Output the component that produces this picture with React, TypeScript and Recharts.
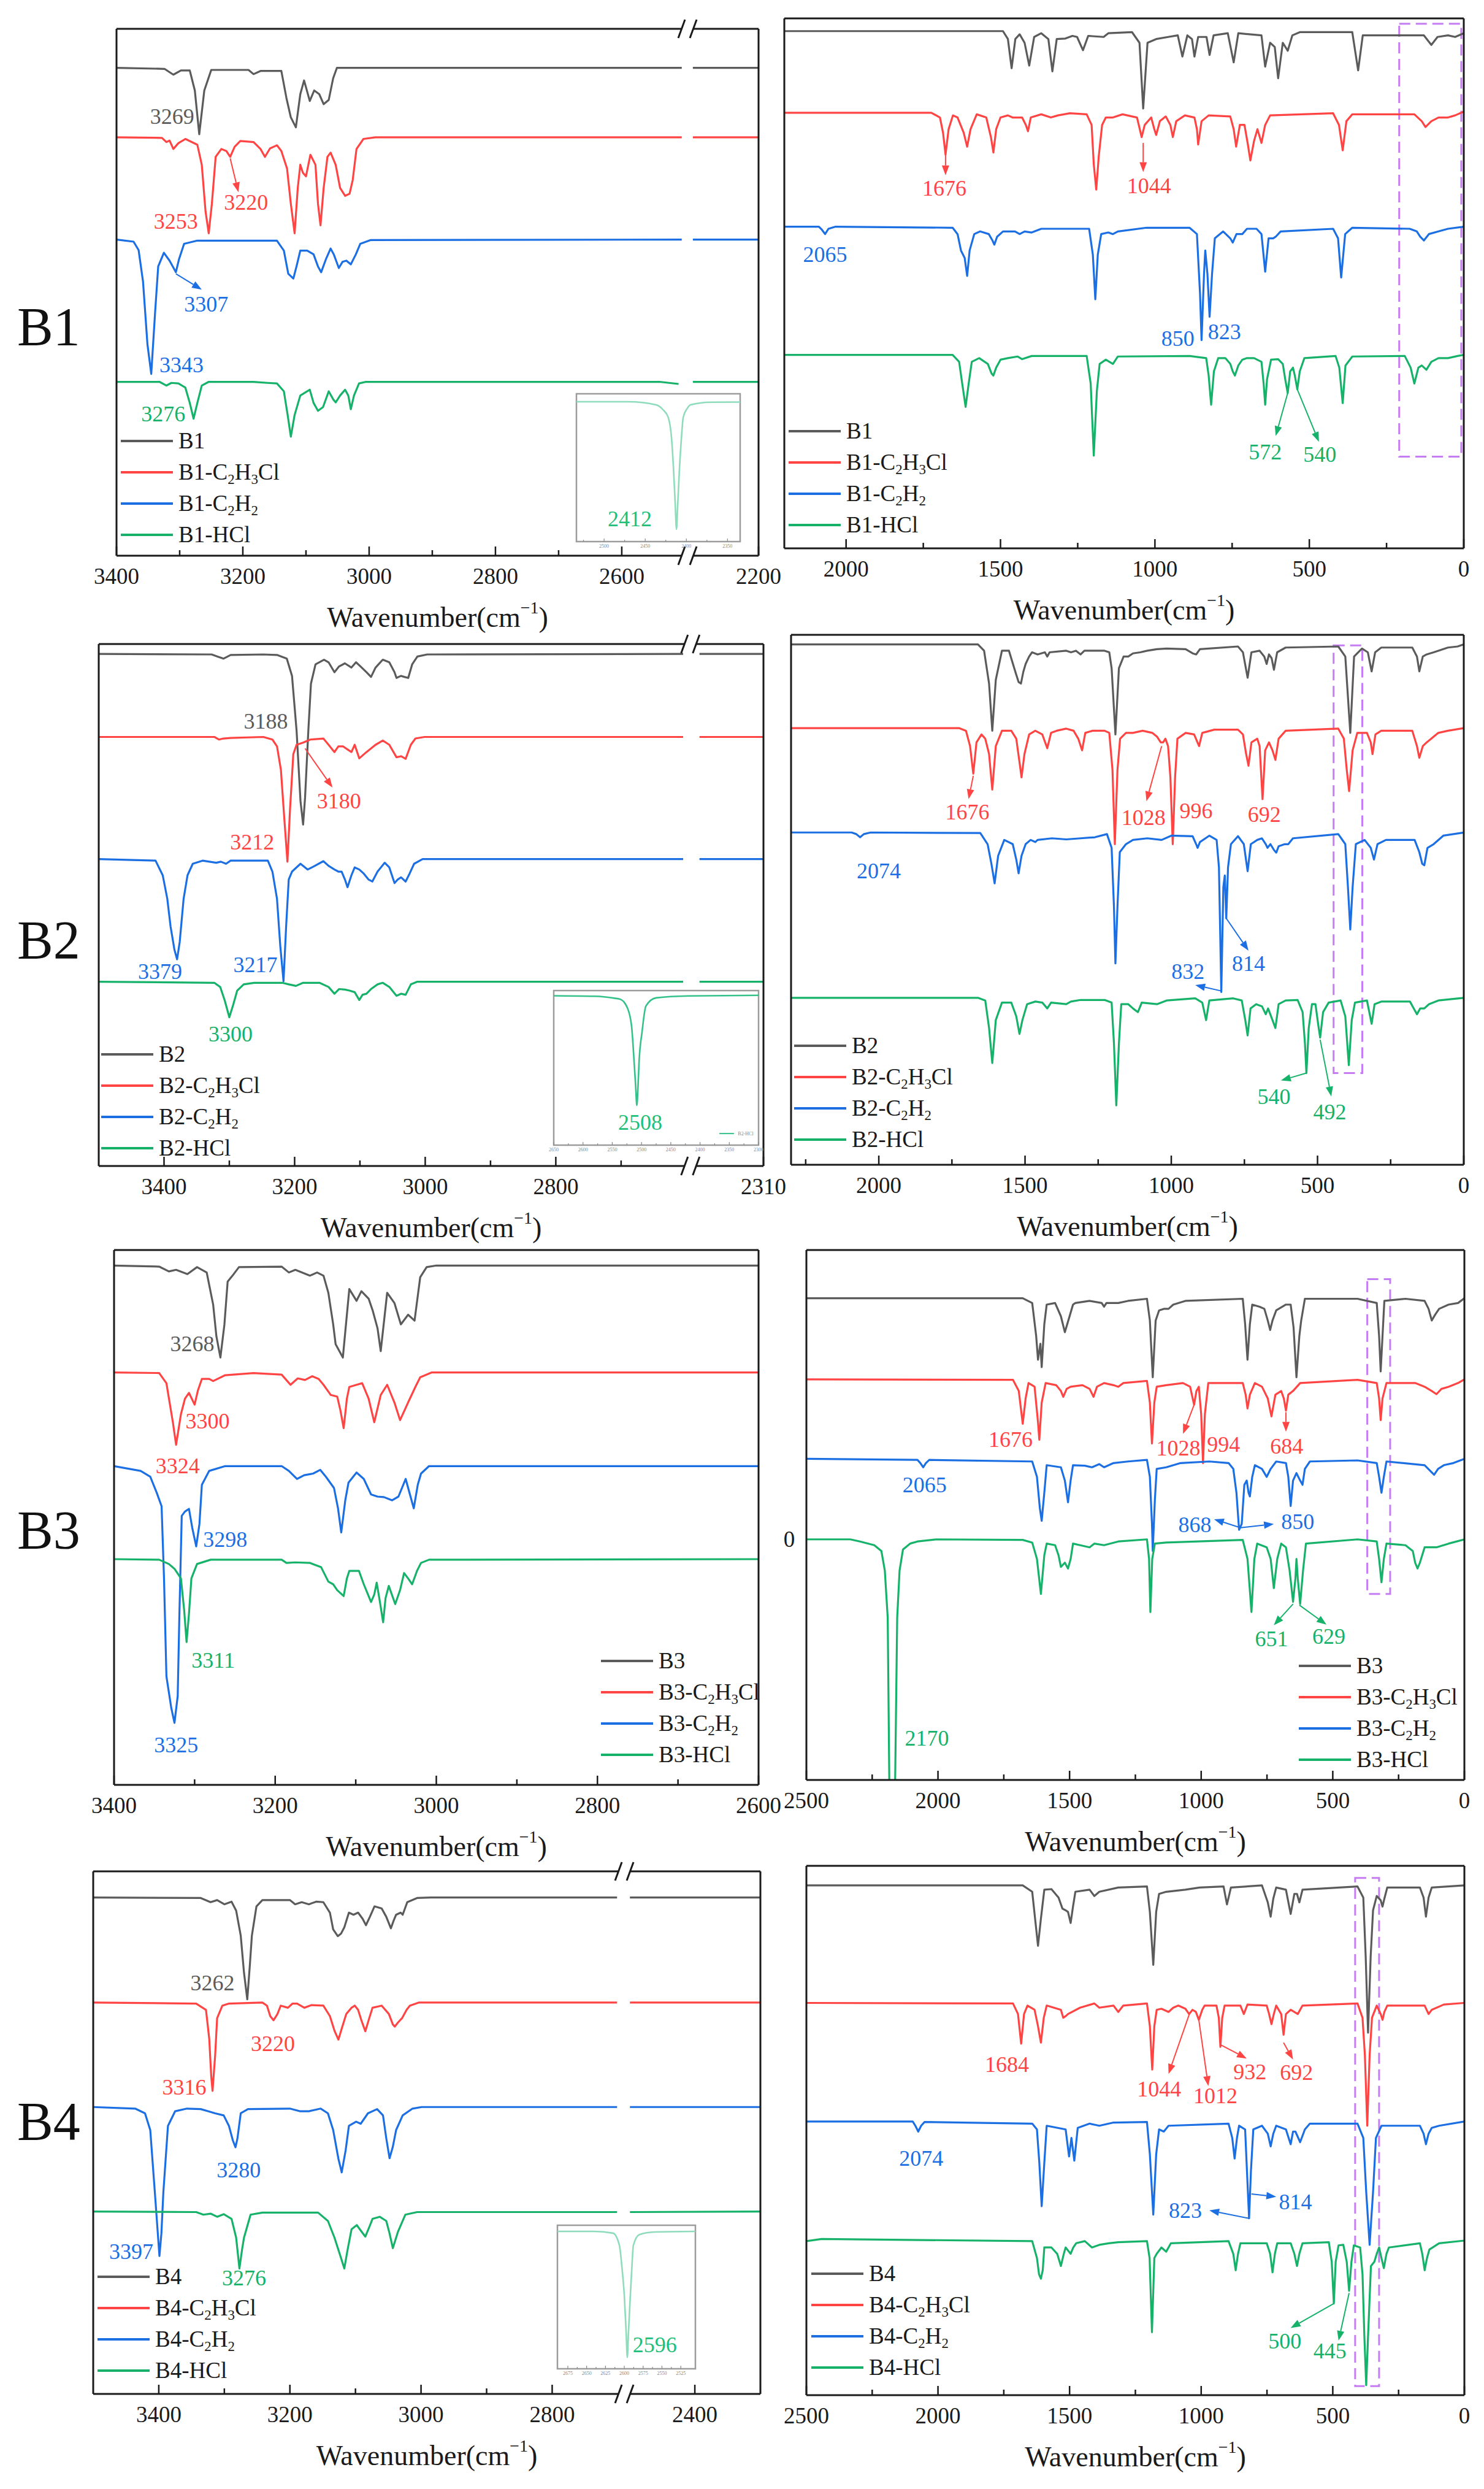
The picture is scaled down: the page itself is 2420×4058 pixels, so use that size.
import React from "react";
import { LineChart, Line, XAxis, YAxis, ReferenceLine, ReferenceArea, ReferenceDot, Legend } from "recharts";

type P = [number, number] | null;
type Note = [string, number, number, string];
type Arrow = [number, number, number, number, string];

const SERIF = '"Liberation Serif", "Times New Roman", Times, serif';
const INK = "#1a1a1a";
const GRAY = "#5b5b5b";
const RED = "#ff4444";
const BLUE = "#1b6fe3";
const GREEN = "#17b26a";
const LIGHT_GREEN = "#8fdcbc";
const PURPLE = "#c67cf2";

// ---------- B1 ----------
const b1Gray: P[] = [[3400,92.6],[3324,92.4],[3310,91.3],[3298,92.1],[3284,92.1],[3276,88.3],[3269,80.0],[3261,88.3],[3250,92.2],[3191,92.2],[3183,91.4],[3172,92.0],[3139,92.0],[3131,86.9],[3124,83.2],[3116,81.3],[3109,87.6],[3103,90.2],[3094,86.3],[3087,88.3],[3079,87.6],[3072,85.7],[3064,86.5],[3057,90.6],[3051,92.6],[2505,92.6],null,[2304,92.6],[2200,92.6]];
const b1Red: P[] = [[3400,79.4],[3328,79.3],[3321,78.5],[3316,78.8],[3310,77.2],[3302,78.3],[3291,79.1],[3272,78.0],[3265,74.2],[3259,65.3],[3254,61.2],[3249,66.8],[3243,75.7],[3234,77.2],[3226,76.8],[3220,75.7],[3213,77.6],[3204,78.7],[3183,78.5],[3172,77.2],[3165,75.7],[3157,77.3],[3146,77.9],[3139,76.8],[3130,73.5],[3124,66.8],[3118,61.2],[3113,69.8],[3109,74.2],[3105,72.7],[3100,72.0],[3093,76.1],[3085,74.2],[3081,66.8],[3077,62.7],[3072,69.8],[3066,75.7],[3061,76.5],[3053,74.2],[3046,69.8],[3038,68.3],[3031,68.7],[3026,71.3],[3020,77.2],[3009,79.1],[2990,79.4],[2505,79.4],null,[2304,79.4],[2200,79.4]];
const b1Blue: P[] = [[3400,60.0],[3373,59.6],[3365,58.0],[3358,52.0],[3351,40.1],[3345,34.5],[3339,46.0],[3334,54.9],[3325,57.5],[3316,56.0],[3306,53.8],[3301,56.3],[3293,59.2],[3272,59.8],[3146,59.8],[3135,57.9],[3128,53.5],[3120,52.6],[3115,54.9],[3109,57.9],[3098,57.9],[3088,57.2],[3081,54.9],[3076,53.8],[3068,56.4],[3061,58.3],[3056,57.2],[3048,54.6],[3042,55.8],[3036,56.0],[3029,55.3],[3021,57.2],[3014,59.2],[2998,59.9],[2505,60.0],null,[2304,60.0],[2200,60.0]];
const b1Green: P[] = [[3400,33.0],[3332,33.0],[3321,32.3],[3313,32.8],[3302,32.7],[3291,31.9],[3284,29.0],[3278,26.0],[3272,29.0],[3265,32.3],[3254,33.0],[3183,33.0],[3161,32.8],[3146,32.7],[3135,31.2],[3129,26.7],[3124,22.6],[3118,26.7],[3109,30.4],[3094,31.5],[3088,29.0],[3081,27.5],[3073,28.2],[3064,31.2],[3057,29.7],[3053,29.1],[3046,30.4],[3038,31.5],[3033,30.4],[3029,27.8],[3024,30.4],[3016,32.7],[3005,33.0],[2540,33.0],[2510,32.6],null,[2304,33.0],[2200,33.0]];

const b1rGray: P[] = [[2200,97.6],[1492,97.6],[1476,96.1],[1464,90.6],[1452,96.1],[1438,97.0],[1422,95.4],[1407,91.1],[1391,96.5],[1368,97.2],[1345,96.1],[1332,90.0],[1318,96.1],[1290,96.2],[1267,96.7],[1252,96.5],[1233,94.0],[1216,96.7],[1166,96.5],[1151,97.2],[1074,97.4],[1050,95.4],[1038,83.0],[1024,95.4],[996,96.1],[957,96.5],[926,96.8],[911,92.8],[895,96.8],[880,96.1],[872,92.8],[860,96.5],[833,96.5],[823,93.1],[810,96.8],[764,97.2],[745,91.7],[730,97.2],[655,96.8],[643,90.9],[627,95.4],[612,94.6],[601,88.7],[586,95.4],[570,93.9],[555,96.8],[531,97.4],[361,97.4],[342,90.2],[327,96.8],[129,96.8],[105,95.0],[85,96.5],[51,96.8],[28,96.5],[0,97.2]];
const b1rRed: P[] = [[2200,82.2],[1724,82.2],[1696,81.3],[1686,78.4],[1678,74.3],[1668,79.1],[1654,81.7],[1639,81.3],[1619,78.4],[1608,75.8],[1597,79.1],[1577,81.9],[1546,81.3],[1531,77.6],[1523,74.7],[1514,79.1],[1500,81.3],[1476,81.7],[1461,81.3],[1430,81.3],[1418,79.9],[1411,78.7],[1402,81.3],[1368,81.9],[1337,81.3],[1314,81.7],[1275,82.1],[1221,81.9],[1205,79.9],[1198,72.5],[1190,67.7],[1182,73.9],[1171,79.9],[1159,81.3],[1136,81.3],[1105,81.9],[1058,81.3],[1049,79.1],[1043,77.6],[1033,79.9],[1012,81.3],[1002,79.1],[996,78.0],[984,80.6],[965,81.5],[950,79.9],[942,77.6],[931,80.6],[903,81.7],[872,81.3],[864,79.1],[860,76.2],[849,80.6],[826,81.7],[756,81.5],[745,79.1],[737,75.8],[725,79.9],[710,79.9],[699,76.2],[691,73.2],[679,76.9],[668,79.1],[655,76.5],[643,79.9],[627,81.7],[423,82.1],[404,79.9],[392,75.1],[380,80.6],[361,81.9],[160,81.9],[136,80.6],[124,79.5],[105,80.6],[82,81.3],[51,81.3],[28,81.7],[0,82.4]];
const b1rBlue: P[] = [[2200,60.7],[2088,60.7],[2078,60.1],[2068,59.3],[2057,60.3],[2034,60.7],[1655,60.5],[1639,59.3],[1628,56.2],[1616,54.8],[1608,51.4],[1600,56.2],[1585,59.3],[1566,59.8],[1538,59.3],[1526,58.1],[1520,57.3],[1511,58.8],[1492,59.8],[1453,59.8],[1438,59.3],[1422,59.8],[1399,59.6],[1368,60.3],[1275,60.3],[1213,60.3],[1201,55.4],[1193,47.0],[1185,55.4],[1174,59.3],[1151,59.6],[1136,59.3],[1120,59.8],[1027,60.5],[888,60.5],[864,59.3],[854,48.1],[849,39.3],[841,51.8],[837,56.2],[830,51.8],[823,43.7],[815,51.8],[806,58.5],[779,59.8],[756,58.5],[748,57.7],[736,59.3],[717,59.3],[702,60.3],[671,60.3],[655,59.3],[643,52.2],[632,58.5],[617,58.5],[609,58.8],[593,59.8],[423,60.3],[407,58.5],[397,51.1],[384,59.3],[361,60.5],[175,60.3],[152,59.8],[141,58.8],[129,58.1],[113,59.3],[82,59.8],[51,60.3],[0,60.7]];
const b1rGreen: P[] = [[2200,36.5],[1655,36.5],[1634,35.2],[1624,31.1],[1613,26.7],[1603,31.1],[1593,35.2],[1569,35.9],[1541,34.8],[1529,33.0],[1523,32.6],[1514,34.1],[1500,35.6],[1476,35.9],[1445,36.2],[1430,35.7],[1399,36.3],[1306,36.3],[1221,36.3],[1208,31.1],[1198,17.5],[1188,29.7],[1179,34.8],[1159,35.6],[1136,34.8],[1120,36.2],[888,36.3],[834,35.9],[826,32.6],[818,27.1],[809,33.4],[795,35.9],[772,35.9],[756,34.8],[748,33.4],[741,32.6],[730,34.5],[717,35.6],[702,35.9],[679,35.9],[655,35.2],[648,31.1],[643,27.1],[637,31.9],[624,35.6],[601,35.7],[586,34.8],[578,31.9],[570,29.3],[562,33.4],[553,34.1],[547,32.6],[539,30.0],[531,33.4],[516,35.9],[415,36.3],[403,34.1],[392,27.4],[383,34.5],[361,36.2],[191,36.3],[172,34.1],[160,31.1],[147,34.1],[136,34.5],[121,33.7],[105,35.2],[82,35.9],[51,35.9],[20,36.3],[0,36.5]];

// ---------- B2 ----------
const b2Gray: P[] = [[3500,98.1],[3327,98.0],[3318,97.6],[3309,97.2],[3298,97.9],[3248,98.0],[3227,97.9],[3212,97.2],[3204,93.9],[3197,83.4],[3191,69.9],[3187,65.4],[3184,70.6],[3179,83.4],[3175,92.4],[3168,96.1],[3155,97.0],[3148,96.5],[3139,94.6],[3132,95.7],[3123,96.3],[3113,95.5],[3106,96.5],[3099,95.7],[3090,94.6],[3083,93.7],[3076,95.5],[3065,97.0],[3055,96.5],[3047,94.6],[3044,93.5],[3037,93.9],[3032,93.7],[3026,93.5],[3020,96.1],[3012,97.6],[2997,98.0],[2605,98.1],null,[2408,98.1],[2310,98.1]];
const b2Red: P[] = [[3500,82.2],[3323,82.2],[3316,81.7],[3309,81.9],[3298,82.0],[3248,82.2],[3234,81.7],[3227,80.4],[3221,75.9],[3216,66.9],[3211,58.3],[3207,68.4],[3202,78.9],[3197,80.7],[3187,81.1],[3176,81.7],[3156,81.9],[3148,80.7],[3139,79.3],[3133,80.4],[3126,80.4],[3119,79.8],[3113,79.3],[3108,80.7],[3101,78.1],[3090,79.3],[3076,80.7],[3065,81.5],[3055,80.7],[3044,78.3],[3037,78.5],[3030,78.0],[3022,80.7],[3015,81.9],[3001,82.2],[2605,82.2],null,[2408,82.2],[2310,82.2]];
const b2Blue: P[] = [[3500,58.8],[3413,58.5],[3402,55.7],[3395,51.2],[3390,45.9],[3384,41.4],[3380,39.6],[3376,42.9],[3370,51.2],[3364,55.7],[3356,57.9],[3341,58.5],[3320,58.1],[3313,58.3],[3305,57.9],[3298,58.5],[3241,58.5],[3234,56.4],[3227,51.2],[3222,42.2],[3217,35.4],[3213,45.9],[3209,54.9],[3204,56.4],[3191,57.9],[3180,56.8],[3169,57.5],[3156,58.4],[3148,57.5],[3139,56.8],[3133,56.4],[3128,56.4],[3123,54.9],[3119,53.4],[3113,55.7],[3108,57.2],[3101,56.8],[3094,56.0],[3087,54.9],[3081,54.5],[3073,56.4],[3062,58.1],[3055,57.2],[3047,54.2],[3042,54.9],[3037,55.3],[3030,54.5],[3024,56.0],[3017,57.9],[3004,58.8],[2605,58.8],null,[2408,58.8],[2310,58.8]];
const b2Green: P[] = [[3500,35.3],[3323,35.1],[3314,34.3],[3307,31.7],[3300,28.5],[3294,30.9],[3288,33.6],[3278,34.8],[3262,35.1],[3219,35.1],[3209,34.8],[3198,34.5],[3187,35.1],[3162,35.1],[3148,34.3],[3139,33.0],[3132,33.9],[3123,33.8],[3116,33.6],[3108,33.3],[3101,31.8],[3096,32.8],[3090,33.0],[3083,33.9],[3073,34.8],[3065,35.1],[3055,34.3],[3044,32.6],[3037,33.0],[3030,32.8],[3022,34.8],[3012,35.3],[2605,35.3],null,[2408,35.3],[2310,35.3]];

const b2rGray: P[] = [[2300,98.2],[1661,98.2],[1640,97.0],[1623,90.8],[1612,81.9],[1600,91.5],[1579,97.0],[1555,97.0],[1533,93.0],[1522,91.1],[1514,90.8],[1506,93.0],[1498,94.5],[1486,95.9],[1476,96.7],[1457,96.3],[1432,96.7],[1424,95.9],[1416,96.7],[1359,97.0],[1343,96.7],[1326,97.0],[1310,96.3],[1297,97.0],[1228,97.0],[1212,96.7],[1204,93.7],[1191,81.2],[1179,93.7],[1163,95.9],[1147,95.9],[1131,96.5],[1106,96.7],[1082,97.0],[1049,97.3],[1016,97.4],[951,97.3],[927,96.5],[915,96.3],[902,97.3],[772,97.8],[755,96.7],[739,91.9],[726,96.7],[698,97.0],[682,95.9],[674,94.5],[666,96.3],[657,95.6],[649,93.4],[638,96.7],[609,97.6],[429,97.8],[405,95.9],[388,81.5],[375,95.9],[348,97.4],[328,96.7],[315,93.1],[303,96.7],[282,97.6],[176,97.6],[160,95.9],[152,93.1],[140,95.9],[127,96.3],[103,96.7],[87,97.0],[54,97.6],[21,97.8],[0,98.2]];
const b2rRed: P[] = [[2300,82.4],[1726,82.4],[1702,81.9],[1688,79.0],[1677,73.8],[1666,79.7],[1649,81.2],[1636,80.4],[1623,77.5],[1612,70.8],[1600,79.0],[1579,81.9],[1547,81.9],[1530,80.4],[1519,76.0],[1512,73.1],[1502,77.5],[1486,81.2],[1465,81.9],[1441,81.2],[1424,78.6],[1411,81.5],[1392,81.9],[1359,82.3],[1334,81.9],[1318,80.4],[1305,78.2],[1294,81.5],[1269,81.9],[1228,81.9],[1212,81.5],[1201,74.5],[1193,60.5],[1184,74.5],[1175,80.4],[1155,81.5],[1131,81.5],[1098,81.9],[1065,81.5],[1049,80.8],[1036,79.7],[1028,79.7],[1020,80.4],[1011,79.0],[1003,73.1],[995,60.5],[987,73.1],[979,80.4],[951,81.5],[922,81.2],[905,79.0],[894,81.5],[853,82.1],[772,82.1],[755,81.2],[744,77.5],[736,75.3],[726,79.7],[706,80.4],[698,79.0],[688,69.0],[679,78.2],[666,79.7],[654,78.2],[644,76.4],[633,80.4],[609,81.9],[429,82.3],[410,80.4],[400,74.5],[392,70.5],[380,78.2],[364,81.5],[331,81.5],[318,79.7],[312,77.5],[302,81.2],[282,81.9],[176,81.9],[160,79.0],[152,76.8],[140,79.0],[127,79.7],[111,80.4],[87,81.5],[54,81.9],[0,82.4]];
const b2rBlue: P[] = [[2300,62.7],[2093,62.7],[2077,62.4],[2064,61.8],[2051,62.4],[2028,62.7],[1653,62.6],[1628,60.5],[1615,56.8],[1604,53.1],[1592,58.3],[1571,61.3],[1542,60.5],[1530,57.6],[1522,55.0],[1512,58.3],[1498,60.5],[1481,61.3],[1465,60.9],[1457,61.3],[1408,61.6],[1359,61.4],[1310,61.6],[1261,61.8],[1220,62.4],[1204,59.8],[1196,48.7],[1191,38.0],[1184,48.7],[1176,59.0],[1155,60.5],[1131,61.3],[1082,61.6],[1033,61.3],[1000,62.1],[927,62.0],[915,60.5],[910,59.8],[902,60.9],[870,62.1],[845,61.3],[837,56.1],[829,32.6],[822,52.4],[817,54.6],[812,46.5],[806,56.1],[796,60.5],[772,62.0],[752,60.5],[739,55.4],[728,60.5],[706,61.3],[690,61.6],[677,60.5],[671,59.8],[661,60.5],[649,59.4],[641,58.9],[633,60.1],[612,60.5],[600,60.5],[584,61.6],[429,62.4],[405,60.5],[396,52.4],[388,44.4],[380,52.4],[369,60.5],[339,61.3],[318,59.8],[307,57.6],[295,60.5],[266,61.3],[168,61.3],[152,59.0],[142,56.8],[135,56.5],[124,59.8],[103,60.5],[70,62.1],[0,62.7]];
const b2rGreen: P[] = [[2300,31.5],[1661,31.5],[1636,31.0],[1623,25.8],[1612,19.2],[1600,27.3],[1579,30.6],[1547,30.6],[1530,28.0],[1519,24.7],[1509,27.3],[1493,30.3],[1465,30.8],[1441,30.6],[1424,29.5],[1411,30.6],[1359,30.3],[1343,30.8],[1310,31.1],[1228,31.1],[1204,30.6],[1196,22.9],[1188,11.2],[1179,22.9],[1171,30.3],[1147,30.3],[1131,29.5],[1114,28.8],[1101,30.6],[1049,30.3],[1016,31.0],[918,31.4],[894,30.6],[881,27.3],[870,31.0],[788,31.4],[759,31.0],[747,27.3],[739,24.4],[729,29.5],[710,30.3],[690,29.9],[677,28.4],[669,29.5],[654,27.3],[644,25.8],[633,30.3],[609,31.0],[568,31.1],[551,28.8],[543,22.9],[538,17.3],[530,25.8],[519,30.3],[507,30.3],[498,26.6],[491,24.0],[481,28.8],[462,30.6],[421,31.0],[405,28.0],[393,18.8],[383,27.3],[372,30.6],[331,31.0],[323,28.8],[315,26.6],[305,30.3],[282,30.8],[184,30.8],[168,29.2],[160,28.4],[149,29.5],[135,29.5],[119,30.3],[87,31.0],[0,31.5]];

// ---------- B3 ----------
const b3Gray: P[] = [[3400,97.1],[3344,96.9],[3332,96.0],[3323,96.3],[3309,95.5],[3297,96.8],[3285,95.8],[3277,89.8],[3273,83.9],[3268,79.9],[3263,86.1],[3259,94.1],[3253,95.2],[3245,96.8],[3192,96.9],[3183,95.8],[3175,96.3],[3157,95.2],[3148,95.8],[3140,95.2],[3134,92.0],[3128,86.1],[3125,82.4],[3116,79.9],[3108,92.7],[3099,90.5],[3093,92.3],[3084,90.9],[3079,88.7],[3073,85.4],[3069,81.1],[3061,92.0],[3052,90.1],[3044,86.1],[3035,87.9],[3027,86.8],[3020,94.9],[3012,96.8],[3000,97.1],[2600,97.1]];
const b3Red: P[] = [[3400,77.1],[3344,77.0],[3335,75.1],[3327,67.8],[3323,63.6],[3317,69.3],[3312,72.2],[3307,73.3],[3300,71.1],[3296,73.7],[3291,75.9],[3282,75.9],[3277,75.5],[3262,76.6],[3227,77.0],[3192,76.7],[3185,75.5],[3181,74.8],[3172,76.0],[3163,75.7],[3154,76.4],[3146,75.9],[3140,74.8],[3131,72.9],[3123,72.6],[3119,70.0],[3115,66.7],[3111,72.2],[3108,74.4],[3099,74.8],[3092,75.1],[3084,72.2],[3077,67.8],[3069,72.9],[3061,74.8],[3052,71.5],[3045,68.2],[3035,71.5],[3026,74.4],[3020,76.2],[3006,77.1],[2600,77.1]];
const b3Blue: P[] = [[3400,59.6],[3367,58.7],[3355,57.6],[3347,54.6],[3341,52.1],[3338,38.6],[3335,20.3],[3329,14.4],[3325,11.6],[3321,16.6],[3319,31.2],[3316,50.3],[3312,51.1],[3307,51.6],[3303,48.1],[3298,44.6],[3294,48.8],[3291,56.1],[3282,58.7],[3262,59.6],[3192,59.6],[3183,58.7],[3173,57.2],[3164,57.9],[3153,58.2],[3144,58.9],[3137,57.6],[3127,55.5],[3122,51.7],[3118,47.2],[3113,53.2],[3109,56.5],[3099,58.4],[3090,57.2],[3081,54.3],[3073,53.9],[3065,53.8],[3055,53.2],[3047,53.9],[3038,57.2],[3032,53.9],[3028,51.7],[3023,56.1],[3019,58.2],[3009,59.6],[2600,59.6]];
const b3Green: P[] = [[3400,42.2],[3344,42.1],[3332,41.3],[3325,40.4],[3317,38.6],[3313,32.7],[3310,26.7],[3307,32.0],[3304,38.6],[3297,41.3],[3280,42.1],[3192,42.1],[3186,41.5],[3175,41.6],[3157,41.5],[3143,40.7],[3134,38.0],[3128,37.5],[3123,36.4],[3115,35.3],[3111,38.6],[3108,40.0],[3096,40.0],[3090,37.5],[3081,34.2],[3077,35.6],[3074,37.8],[3070,34.2],[3066,30.4],[3063,34.9],[3059,37.2],[3051,33.8],[3045,36.4],[3040,39.6],[3035,38.6],[3030,37.5],[3024,40.0],[3019,41.5],[3009,42.1],[2600,42.2]];

const b3rGray: P[] = [[2500,90.9],[1678,90.9],[1642,90.0],[1627,83.8],[1620,79.3],[1611,82.3],[1606,77.9],[1596,86.0],[1587,89.7],[1555,90.0],[1533,87.5],[1518,84.5],[1509,86.0],[1500,87.5],[1487,89.7],[1478,90.0],[1424,90.4],[1378,90.0],[1369,89.3],[1360,90.0],[1315,90.0],[1278,90.4],[1206,90.8],[1195,86.7],[1184,76.0],[1173,86.7],[1160,88.6],[1142,88.9],[1124,88.9],[1106,89.7],[1060,90.4],[842,90.8],[833,86.0],[824,79.3],[815,86.0],[806,89.7],[778,89.3],[760,88.9],[747,86.7],[738,84.9],[729,86.7],[715,88.6],[678,89.7],[660,89.7],[649,85.4],[638,76.0],[627,83.8],[620,86.7],[606,90.8],[406,90.8],[333,90.0],[324,83.8],[318,77.1],[311,83.8],[304,90.4],[224,90.8],[151,90.4],[136,88.9],[124,86.7],[111,87.8],[96,88.9],[60,89.7],[24,90.0],[0,90.9]];
const b3rRed: P[] = [[2500,75.6],[1715,75.5],[1693,73.4],[1678,67.2],[1667,72.0],[1656,74.9],[1633,74.2],[1620,67.5],[1615,64.2],[1606,71.2],[1591,74.9],[1551,74.5],[1533,73.4],[1524,72.3],[1511,73.8],[1496,74.2],[1451,74.5],[1424,73.8],[1409,72.3],[1396,74.2],[1369,74.9],[1333,74.5],[1315,74.2],[1296,74.9],[1206,75.3],[1195,71.2],[1187,63.5],[1178,71.2],[1169,74.2],[1133,74.5],[1069,74.9],[1042,74.2],[1027,70.8],[1018,73.4],[1009,74.2],[1000,69.0],[993,59.8],[986,69.0],[973,74.9],[842,74.9],[831,72.7],[824,70.1],[815,72.7],[796,74.9],[769,74.2],[747,72.0],[733,68.6],[718,72.7],[696,73.4],[686,72.0],[678,69.7],[669,72.7],[651,73.4],[624,74.9],[406,75.5],[333,74.9],[324,72.0],[318,67.9],[311,72.0],[296,74.9],[187,74.9],[151,74.2],[124,73.4],[106,72.8],[87,73.8],[60,74.2],[24,74.9],[0,75.6]];
const b3rBlue: P[] = [[2500,60.6],[2078,60.4],[2067,59.8],[2056,59.0],[2046,59.8],[2033,60.4],[1642,60.1],[1624,57.2],[1613,51.3],[1606,48.9],[1596,54.2],[1587,59.4],[1533,59.0],[1518,56.5],[1506,52.4],[1496,56.5],[1487,59.4],[1442,59.3],[1415,59.0],[1387,59.6],[1369,59.0],[1333,59.8],[1278,60.1],[1206,60.4],[1195,57.2],[1187,48.3],[1184,43.2],[1176,52.8],[1169,58.7],[1133,59.0],[1078,59.8],[969,60.1],[896,59.8],[878,58.7],[866,54.2],[856,47.2],[846,48.3],[836,55.7],[827,56.5],[820,54.2],[815,53.5],[806,57.2],[796,59.4],[769,58.7],[756,57.6],[751,57.2],[736,58.7],[715,60.1],[678,59.8],[669,57.2],[660,51.7],[651,56.5],[638,57.9],[624,56.5],[615,55.7],[606,58.7],[587,60.1],[406,60.3],[333,59.8],[324,57.2],[315,54.2],[306,57.2],[296,60.1],[151,59.4],[129,58.3],[115,57.6],[100,58.7],[78,59.4],[42,59.8],[0,60.6]];
const b3rGreen: P[] = [[2500,45.4],[2333,45.4],[2296,45.0],[2242,44.3],[2215,43.2],[2202,39.5],[2191,30.6],[2184,-5],[2164,-5],[2155,30.6],[2146,39.5],[2133,43.5],[2106,44.6],[2078,45.0],[2006,45.4],[1678,45.3],[1642,44.8],[1624,41.7],[1609,35.1],[1596,42.4],[1587,44.6],[1555,44.3],[1542,42.4],[1533,40.2],[1518,41.0],[1506,39.9],[1496,41.7],[1487,44.6],[1460,44.3],[1424,43.9],[1406,44.6],[1369,44.3],[1315,45.0],[1206,45.4],[1198,41.7],[1193,31.7],[1186,41.7],[1176,44.6],[1133,44.8],[842,45.3],[824,41.7],[809,31.7],[798,41.7],[787,44.6],[751,43.9],[736,41.7],[724,36.2],[711,41.7],[696,44.6],[678,43.9],[664,39.5],[651,33.6],[642,38.0],[638,41.7],[633,38.0],[624,33.2],[613,39.5],[602,44.6],[406,45.4],[333,45.0],[324,41.7],[315,37.3],[306,41.7],[296,44.6],[224,44.3],[196,43.2],[187,41.0],[178,39.9],[169,41.0],[151,43.9],[106,43.9],[60,44.6],[0,45.4]];

// ---------- B4 ----------
const b4Gray: P[] = [[3500,95.0],[3336,94.9],[3321,94.1],[3311,94.5],[3300,93.7],[3289,94.2],[3282,92.5],[3275,87.7],[3270,80.6],[3265,75.5],[3261,82.2],[3258,87.7],[3251,93.3],[3242,94.5],[3200,94.5],[3192,93.7],[3182,94.1],[3171,93.7],[3160,94.2],[3149,94.1],[3139,92.1],[3134,88.9],[3127,87.6],[3122,88.1],[3117,89.3],[3110,92.1],[3103,91.7],[3096,92.1],[3089,90.9],[3084,89.7],[3078,91.3],[3071,93.3],[3060,92.9],[3053,91.3],[3046,89.1],[3042,90.5],[3038,91.7],[3031,92.1],[3028,91.7],[3021,94.1],[3006,94.9],[2985,95.0],[2701,95.0],null,[2499,95.0],[2300,95.0]];
const b4Red: P[] = [[3500,74.9],[3343,74.7],[3328,73.5],[3323,67.9],[3320,60.8],[3318,58.0],[3314,64.8],[3311,71.9],[3303,74.3],[3293,74.7],[3242,74.9],[3235,74.3],[3230,72.3],[3225,71.5],[3219,72.7],[3214,74.3],[3203,73.9],[3196,74.7],[3189,74.7],[3178,73.9],[3167,74.4],[3149,74.3],[3139,72.3],[3132,69.5],[3126,67.8],[3121,69.9],[3114,72.7],[3106,73.9],[3101,74.3],[3096,73.5],[3091,71.5],[3085,69.4],[3079,71.9],[3074,73.9],[3060,74.3],[3049,72.7],[3043,70.7],[3040,70.3],[3035,71.1],[3029,71.9],[3022,73.5],[3017,74.3],[3003,74.9],[2701,74.9],null,[2499,74.9],[2300,74.9]];
const b4Blue: P[] = [[3500,54.9],[3436,54.6],[3421,53.7],[3413,50.5],[3406,38.6],[3401,29.9],[3399,26.4],[3396,30.7],[3393,38.6],[3386,51.3],[3375,54.1],[3357,54.6],[3336,54.5],[3325,54.1],[3314,53.7],[3301,53.3],[3293,51.3],[3287,48.5],[3283,47.2],[3280,48.9],[3275,53.7],[3264,54.5],[3200,54.6],[3185,54.1],[3171,54.1],[3153,54.6],[3142,53.7],[3134,50.5],[3126,45.0],[3121,42.4],[3115,46.6],[3110,51.3],[3099,52.1],[3092,51.7],[3081,53.7],[3067,54.5],[3058,53.3],[3053,48.9],[3048,45.1],[3043,47.3],[3038,50.5],[3028,53.3],[3013,54.6],[2999,54.9],[2701,54.9],null,[2499,54.9],[2300,54.9]];
const b4Green: P[] = [[3500,34.9],[3343,34.8],[3332,34.3],[3321,34.5],[3311,33.9],[3301,34.4],[3289,33.5],[3282,29.9],[3277,24.0],[3273,27.6],[3270,29.9],[3260,34.3],[3242,34.7],[3157,34.7],[3142,33.1],[3132,29.9],[3122,26.0],[3117,24.0],[3112,27.6],[3106,31.5],[3098,32.3],[3091,31.1],[3085,30.1],[3079,31.9],[3074,33.5],[3063,33.9],[3053,33.1],[3048,30.7],[3043,27.9],[3038,29.9],[3035,31.1],[3024,34.3],[3006,34.8],[2701,34.8],null,[2499,34.8],[2300,34.9]];

const b4rGray: P[] = [[2500,96.3],[1678,96.3],[1642,95.1],[1631,90.0],[1620,84.9],[1609,90.0],[1596,95.5],[1569,95.6],[1542,94.0],[1527,91.9],[1515,91.6],[1506,91.3],[1496,89.2],[1487,92.3],[1478,95.1],[1424,95.5],[1406,94.3],[1387,95.1],[1315,95.9],[1206,96.1],[1195,91.3],[1182,81.3],[1171,91.3],[1160,94.7],[1133,95.1],[1060,95.5],[1006,95.9],[915,96.1],[902,92.7],[887,95.9],[769,96.3],[747,93.1],[736,90.4],[726,93.8],[715,95.9],[678,95.5],[660,90.9],[646,94.7],[636,94.7],[627,93.1],[615,95.5],[406,96.1],[384,94.0],[375,82.9],[366,68.5],[356,82.9],[347,91.6],[333,94.3],[318,93.5],[311,92.3],[304,93.8],[293,95.9],[169,95.9],[155,94.0],[146,90.4],[136,94.0],[124,95.9],[0,96.3]];
const b4rRed: P[] = [[2500,74.1],[1715,74.0],[1696,72.0],[1684,66.4],[1673,72.0],[1660,73.6],[1633,72.8],[1620,69.7],[1609,66.6],[1598,71.3],[1587,73.6],[1533,72.8],[1524,71.3],[1515,71.6],[1506,72.0],[1460,73.2],[1406,74.0],[1387,73.2],[1333,73.6],[1315,72.4],[1296,73.6],[1206,74.0],[1195,69.7],[1186,61.5],[1178,69.7],[1169,72.8],[1151,73.0],[1124,72.4],[1106,73.2],[1087,73.6],[1060,73.0],[1046,72.0],[1033,72.8],[1020,72.4],[1009,70.9],[996,72.8],[987,73.6],[942,73.6],[933,71.3],[927,65.8],[920,71.3],[911,73.6],[851,73.6],[838,72.0],[824,73.8],[751,73.6],[742,72.0],[733,70.1],[724,72.0],[715,73.6],[696,72.0],[687,68.1],[678,72.0],[660,72.8],[633,72.0],[615,73.6],[406,74.0],[387,71.3],[378,64.2],[369,50.9],[360,64.2],[351,71.3],[333,73.6],[318,72.0],[311,70.9],[304,72.4],[293,73.6],[151,73.6],[136,72.0],[124,72.8],[78,73.8],[0,74.1]];
const b4rBlue: P[] = [[2500,51.7],[2096,51.7],[2086,50.9],[2075,49.8],[2064,50.9],[2051,51.6],[1642,51.3],[1624,50.2],[1615,43.9],[1606,35.7],[1596,43.9],[1587,50.9],[1515,50.2],[1502,45.1],[1493,48.6],[1482,44.3],[1469,50.5],[1424,51.3],[1387,50.9],[1333,51.5],[1206,51.6],[1195,45.5],[1182,34.1],[1171,45.5],[1160,50.2],[1142,49.8],[1124,50.9],[896,51.3],[882,48.6],[873,44.7],[864,48.6],[856,50.9],[833,50.2],[826,42.3],[818,33.4],[811,42.3],[802,50.2],[769,50.9],[747,49.4],[736,47.0],[726,49.4],[715,50.9],[678,50.2],[660,47.4],[651,49.8],[642,49.8],[624,47.8],[606,50.2],[587,51.3],[406,51.3],[384,48.6],[373,38.4],[360,28.4],[347,38.4],[336,48.6],[315,50.9],[169,50.9],[155,49.4],[146,47.4],[136,49.4],[124,50.5],[96,50.9],[0,51.7]];
const b4rGreen: P[] = [[2500,29.1],[2442,29.5],[1642,29.1],[1624,25.9],[1616,22.8],[1609,22.0],[1602,23.6],[1596,27.9],[1569,27.9],[1547,26.7],[1533,24.4],[1522,26.7],[1515,27.9],[1496,26.7],[1486,27.9],[1475,28.7],[1442,29.1],[1415,27.9],[1387,28.4],[1351,28.7],[1315,28.9],[1206,29.1],[1196,25.9],[1187,11.9],[1178,25.9],[1169,26.7],[1151,27.9],[1133,27.1],[1115,28.7],[896,29.1],[878,26.7],[869,23.6],[860,26.7],[851,28.7],[751,28.7],[738,26.7],[729,23.2],[720,26.7],[711,28.7],[660,28.7],[646,26.7],[636,24.4],[627,26.7],[615,28.7],[515,28.9],[504,25.2],[496,17.3],[489,25.2],[478,28.3],[460,28.4],[447,25.2],[438,19.7],[429,25.2],[420,28.3],[396,27.9],[387,22.8],[380,11.1],[373,1.9],[366,11.1],[355,24.4],[342,25.2],[333,26.7],[324,27.9],[315,25.9],[306,24.0],[296,26.7],[287,27.9],[169,28.7],[160,26.7],[151,23.6],[142,25.9],[133,27.5],[96,28.7],[0,29.2]];

// ---------- insets (HCl band) ----------
const b1InsetPts: [number, number][] = [[2533.6,94.6],[2470,94.6],[2437,92.5],[2428,89],[2422,84],[2418,70],[2415.7,50],[2413.5,25],[2412,8.3],[2410.5,25],[2408.3,50],[2406,70],[2403.8,84],[2399,90],[2395,92.5],[2370,94.3],[2334.6,94.4]];
const b2InsetPts: [number, number][] = [[2650,96.6],[2580,96.3],[2545,95],[2537,94.5],[2524,88.7],[2517,77],[2512.5,53],[2510,38],[2508,25.8],[2506,38],[2504.3,53],[2499,73.5],[2492.5,90],[2475,95.3],[2420,96.5],[2300,96.9]];
const b4InsetPts: [number, number][] = [[2688.8,95.7],[2640,95.7],[2615,94.5],[2606.5,86],[2603,70],[2600,51],[2597.5,25],[2596,7.9],[2594.5,25],[2592,51],[2590,70],[2588,86],[2580,93.5],[2560,95.3],[2505.6,95.7]];

// ---------- peak labels and arrows ----------
const b1Notes: Note[] = [["3269",3312,83.3,GRAY],["3253",3306,63.5,RED],["3220",3195,67.0,RED],["3307",3258,47.7,BLUE],["3343",3297,36.2,BLUE],["3276",3326,26.9,GREEN]];
const b1Arrows: Arrow[] = [[3220,75.4,3207,69.0,RED],[3306,53.5,3265,50.5,BLUE]];
const b1rNotes: Note[] = [["1676",1682,67.9,RED],["1044",1019,68.4,RED],["2065",2068,55.4,BLUE],["850",926,39.6,BLUE],["823",775,40.9,BLUE],["572",643,18.2,GREEN],["540",466,17.7,GREEN]];
const b1rArrows: Arrow[] = [[1678,74.3,1678,70.4,RED],[1038,76.5,1038,71.0,RED],[570,29.3,609,21.2,GREEN],[539,30.0,469,20.1,GREEN]];
const b2Notes: Note[] = [["3188",3244,85.2,GRAY],["3180",3132,69.9,RED],["3212",3265,62.0,RED],["3379",3406,37.3,BLUE],["3217",3260,38.6,BLUE],["3300",3298,25.3,GREEN]];
const b2Arrows: Arrow[] = [[3184,80.0,3142,72.5,RED]];
const b2rNotes: Note[] = [["1676",1697,66.6,RED],["1028",1095,65.5,RED],["996",915,66.8,RED],["692",682,66.1,RED],["2074",2000,55.4,BLUE],["832",943,36.5,BLUE],["814",736,38.0,BLUE],["540",649,12.9,GREEN],["492",458,10.0,GREEN]];
const b2rArrows: Arrow[] = [[1677,73.4,1693,69.0,RED],[1033,79.0,1085,68.6,RED],[829,32.8,918,33.9,BLUE],[812,46.5,736,40.4,BLUE],[538,17.3,625,15.9,GREEN],[491,23.6,453,12.9,GREEN]];
const b3Notes: Note[] = [["3268",3303,82.4,GRAY],["3300",3284,68.0,RED],["3324",3321,59.6,RED],["3298",3262,45.9,BLUE],["3311",3277,23.3,GREEN],["3325",3323,7.5,BLUE]];
const b3rNotes: Note[] = [["1676",1724,64.2,RED],["1028",1087,62.6,RED],["994",915,63.3,RED],["684",675,63.0,RED],["2065",2051,55.7,BLUE],["868",1024,48.2,BLUE],["850",633,48.7,BLUE],["651",733,26.6,GREEN],["629",515,27.1,GREEN],["2170",2042,7.9,GREEN]];
const b3rArrows: Arrow[] = [[1027,70.8,1069,65.3,RED],[678,69.4,678,65.7,RED],[851,47.6,951,49.2,BLUE],[851,47.6,724,48.3,BLUE],[651,33.2,724,29.2,GREEN],[627,33.0,524,29.3,GREEN]];
const b4Notes: Note[] = [["3262",3318,78.6,GRAY],["3220",3226,67.0,RED],["3316",3361,58.7,RED],["3280",3278,42.8,BLUE],["3397",3442,27.2,BLUE],["3276",3270,22.2,GREEN]];
const b4rNotes: Note[] = [["1684",1738,62.5,RED],["1044",1160,57.8,RED],["1012",946,56.6,RED],["932",815,61.1,RED],["692",638,60.9,RED],["2074",2064,44.7,BLUE],["823",1060,34.9,BLUE],["814",642,36.5,BLUE],["500",682,10.2,GREEN],["445",511,8.4,GREEN]];
const b4rArrows: Arrow[] = [[1045,72.0,1124,60.7,RED],[1009,70.9,973,58.4,RED],[927,66.2,827,63.6,RED],[687,66.6,651,63.4,RED],[818,33.4,969,34.9,BLUE],[809,38.0,715,37.5,BLUE],[496,17.3,660,12.7,GREEN],[438,19.3,478,10.3,GREEN]];

const leftTicks: [number, string][] = [[3400,"3400"],[3200,"3200"],[3000,"3000"],[2800,"2800"]];
const rightTicks: [number, string][] = [[2000,"2000"],[1500,"1500"],[1000,"1000"],[500,"500"],[0,"0"]];

interface Trace { name: string; color: string; pts: P[] }
interface PanelSpec {
  box: [number, number, number, number];
  hi: number;
  lo: number;
  brk?: { at: number; shift: number; u: number };
  majors: [number, string][];
  minors: number[];
  traces: Trace[];
  notes: Note[];
  arrows: Arrow[];
  legend: [number, number];
  dash?: [number, number, number, number];
  yZero?: [number, number];
}

const names = (b: string) => [b, `${b}-C2H3Cl`, `${b}-C2H2`, `${b}-HCl`];
const mk = (b: string, a: P[][]): Trace[] =>
  names(b).map((n, i) => ({ name: n, color: [GRAY, RED, BLUE, GREEN][i], pts: a[i] }));

const panels: PanelSpec[] = [
  { box: [190, 47, 1047, 859], hi: 3400, lo: 2200, brk: { at: 2400, shift: 183.4, u: 2496 },
    majors: [...leftTicks, [2600, "2600"], [2200, "2200"]], minors: [3300, 3100, 2900, 2700],
    traces: mk("B1", [b1Gray, b1Red, b1Blue, b1Green]), notes: b1Notes, arrows: b1Arrows, legend: [197, 693] },
  { box: [1279, 30, 1108, 864], hi: 2200, lo: 0, majors: rightTicks, minors: [1750, 1250, 750, 250],
    traces: mk("B1", [b1rGray, b1rRed, b1rBlue, b1rGreen]), notes: b1rNotes, arrows: b1rArrows, legend: [1286, 677],
    dash: [8, 209, 17.3, 99] },
  { box: [161, 1050, 1084, 851], hi: 3500, lo: 2310, brk: { at: 2500, shift: 172, u: 2594 },
    majors: [...leftTicks, [2310, "2310"]], minors: [3300, 3100, 2900, 2700],
    traces: mk("B2", [b2Gray, b2Red, b2Blue, b2Green]), notes: b2Notes, arrows: b2Arrows, legend: [165, 1693] },
  { box: [1290, 1035, 1097, 864], hi: 2300, lo: 0, majors: rightTicks, minors: [2250, 1750, 1250, 750, 250],
    traces: mk("B2", [b2rGray, b2rRed, b2rBlue, b2rGreen]), notes: b2rNotes, arrows: b2rArrows, legend: [1295, 1679],
    dash: [347, 445, 17.3, 98] },
  { box: [186, 2038, 1051, 872], hi: 3400, lo: 2600, majors: [...leftTicks, [2600, "2600"]], minors: [3300, 3100, 2900, 2700],
    traces: mk("B3", [b3Gray, b3Red, b3Blue, b3Green]), notes: b3Notes, arrows: [], legend: [980, 2682] },
  { box: [1315, 2038, 1073, 864], hi: 2500, lo: 0, majors: [[2500, "2500"], ...rightTicks], minors: [2250, 1750, 1250, 750, 250],
    traces: mk("B3", [b3rGray, b3rRed, b3rBlue, b3rGreen]), notes: b3rNotes, arrows: b3rArrows, legend: [2118, 2690],
    dash: [282, 369, 35.1, 94.5], yZero: [2565, 45.4] },
  { box: [152, 3051, 1088, 852], hi: 3500, lo: 2300, brk: { at: 2600, shift: 182.4, u: 2690 },
    majors: [...leftTicks, [2400, "2400"]], minors: [3300, 3100, 2900],
    traces: mk("B4", [b4Gray, b4Red, b4Blue, b4Green]), notes: b4Notes, arrows: [], legend: [159, 3686] },
  { box: [1315, 3042, 1073, 863], hi: 2500, lo: 0, majors: [[2500, "2500"], ...rightTicks], minors: [2250, 1750, 1250, 750, 250],
    traces: mk("B4", [b4rGray, b4rRed, b4rBlue, b4rGreen]), notes: b4rNotes, arrows: b4rArrows, legend: [1323, 3681],
    dash: [324, 415, 1.7, 97.7] },
];

interface InsetSpec {
  box: [number, number, number, number];
  domain: [number, number];
  majors: number[];
  minors: number[];
  color: string;
  pts: [number, number][];
  label: [string, number, number];
  mini?: string;
}

const insets: InsetSpec[] = [
  { box: [940, 642, 267, 241], domain: [2334.6, 2533.6], majors: [2500, 2450, 2400, 2350], minors: [2525, 2475, 2425, 2375],
    color: LIGHT_GREEN, pts: b1InsetPts, label: ["2412", 2468.7, 15.4] },
  { box: [903, 1615, 334, 252], domain: [2300, 2650], majors: [2650, 2600, 2550, 2500, 2450, 2400, 2350, 2300],
    minors: [2625, 2575, 2525, 2475, 2425, 2375, 2325], color: "#35c28a", pts: b2InsetPts, label: ["2508", 2502.2, 14.7], mini: "B2-HCl" },
  { box: [909, 3628, 225, 234], domain: [2505.6, 2688.8], majors: [2675, 2650, 2625, 2600, 2575, 2550, 2525],
    minors: [2662.5, 2637.5, 2612.5, 2587.5, 2562.5, 2537.5], color: LIGHT_GREEN, pts: b4InsetPts, label: ["2596", 2559.6, 16.6] },
];

const panelTags: [string, number][] = [["B1", 534], ["B2", 1534], ["B3", 2496], ["B4", 3460]];

const PAD_L = 50, PAD_R = 75, PAD_T = 30, AXIS_H = 140;
const TICK_DY = 33, TITLE_DY = 100;
const INSET_PAD = 14;

const SUB: React.CSSProperties = { fontSize: "0.62em", verticalAlign: "-0.32em", lineHeight: 0 };
const formula = (s: string) => {
  const i = s.indexOf("-");
  if (i < 0) return s;
  const parts = s.slice(i + 1).split(/(\d)/).filter(Boolean);
  return (
    <>
      {s.slice(0, i + 1)}
      {parts.map((t, k) => (/\d/.test(t) ? <sub key={k} style={SUB}>{t}</sub> : <span key={k}>{t}</span>))}
    </>
  );
};

const LegendBox = ({ traces }: { traces: Trace[] }) => (
  <div style={{ fontFamily: SERIF, fontSize: 37, color: INK }}>
    {traces.map((t) => (
      <div key={t.name} style={{ display: "flex", alignItems: "center", height: 51, whiteSpace: "nowrap" }}>
        <span style={{ display: "inline-block", width: 85, height: 4, background: t.color, marginRight: 9 }} />
        <span style={{ lineHeight: "42px" }}>{formula(t.name)}</span>
      </div>
    ))}
  </div>
);

const AxisTick = (props: any) => {
  const { x, y, payload, majors } = props;
  const m = (majors as [number, string][]).find((mm) => Math.abs(mm[0] - payload.value) < 0.01);
  return (
    <g>
      <line x1={x} x2={x} y1={y} y2={y - (m ? 15 : 9)} stroke={INK} strokeWidth={2.5} />
      {m && (
        <text x={x} y={y + TICK_DY} textAnchor="middle" dominantBaseline="central" fontFamily={SERIF} fontSize={37} fill={INK}>
          {m[1]}
        </text>
      )}
    </g>
  );
};

const InsetTick = (props: any) => {
  const { x, y, payload, majors } = props;
  const major = (majors as number[]).some((m) => Math.abs(m - payload.value) < 0.01);
  return (
    <g>
      <line x1={x} x2={x} y1={y} y2={y - (major ? 5 : 3)} stroke="#8a8a8a" strokeWidth={1.2} />
      {major && (
        <text x={x} y={y + 7} textAnchor="middle" dominantBaseline="central" fontFamily={SERIF} fontSize={8} fill="#8a8a8a">
          {payload.value}
        </text>
      )}
    </g>
  );
};

const arrowShape = (color: string) => (p: any) => {
  const { x1, y1, x2, y2 } = p;
  const a = Math.atan2(y2 - y1, x2 - x1);
  const L = 16, W = 6;
  const bx = x2 - L * Math.cos(a), by = y2 - L * Math.sin(a);
  const px = -Math.sin(a) * W, py = Math.cos(a) * W;
  return (
    <g>
      <line x1={x1} y1={y1} x2={bx} y2={by} stroke={color} strokeWidth={2} />
      <polygon points={`${x2},${y2} ${bx + px},${by + py} ${bx - px},${by - py}`} fill={color} />
    </g>
  );
};

const noteShape = (text: string, color: string, size = 36) => (p: any) => (
  <text x={p.cx} y={p.cy} textAnchor="middle" dominantBaseline="central" fontFamily={SERIF} fontSize={size} fill={color}>
    {text}
  </text>
);

const breakShape = (p: any) => {
  const { cx, cy } = p;
  return (
    <g>
      <rect x={cx - 9} y={cy - 5} width={18} height={10} fill="#fff" />
      <line x1={cx - 15} y1={cy + 15} x2={cx - 4} y2={cy - 15} stroke={INK} strokeWidth={3} />
      <line x1={cx + 4} y1={cy + 15} x2={cx + 15} y2={cy - 15} stroke={INK} strokeWidth={3} />
    </g>
  );
};

function Panel({ spec }: { spec: PanelSpec }) {
  const [bx, by, bw, bh] = spec.box;
  const left = bx - PAD_L, top = by - PAD_T;
  const brk = spec.brk;
  const toU = (v: number) => (brk && v < brk.at ? v + brk.shift : v);
  const uMin = toU(spec.lo), uMax = toU(spec.hi);
  const majorU: [number, string][] = spec.majors.map(([v, l]) => [toU(v), l]);
  const ticks = [...majorU.map((m) => m[0]), ...spec.minors.map(toU)];
  const build = (pts: P[]) => pts.map((p) => (p ? { u: toU(p[0]), y: p[1] } : { u: brk ? brk.u : uMin, y: null }));
  const title = () => (
    <text x={PAD_L + bw / 2} y={PAD_T + bh + TITLE_DY} textAnchor="middle" dominantBaseline="central" fontFamily={SERIF} fontSize={46} fill={INK}>
      Wavenumber(cm<tspan dy={-16} fontSize={28}>−1</tspan>
      <tspan dy={16}>)</tspan>
    </text>
  );
  return (
    <div style={{ position: "absolute", left, top }}>
      <LineChart width={bw + PAD_L + PAD_R} height={bh + PAD_T + AXIS_H} margin={{ top: PAD_T, right: PAD_R, left: PAD_L, bottom: 0 }}>
        <XAxis
          dataKey="u"
          type="number"
          domain={[uMin, uMax]}
          reversed
          allowDataOverflow
          ticks={ticks}
          interval={0}
          tickSize={0}
          tickMargin={0}
          axisLine={false}
          tickLine={false}
          height={AXIS_H}
          tick={<AxisTick majors={majorU} />}
          label={{ value: "Wavenumber", content: title }}
        />
        <YAxis type="number" domain={[0, 100]} allowDataOverflow hide />
        {spec.dash && (
          <ReferenceArea x1={spec.dash[0]} x2={spec.dash[1]} y1={spec.dash[2]} y2={spec.dash[3]} fill="none" stroke={PURPLE} strokeWidth={3} strokeDasharray="18 9" />
        )}
        {spec.traces.map((t) => (
          <Line
            key={t.name}
            data={build(t.pts)}
            dataKey="y"
            name={t.name}
            type="linear"
            stroke={t.color}
            strokeWidth={3.2}
            strokeLinejoin="round"
            dot={false}
            activeDot={false}
            connectNulls={false}
            isAnimationActive={false}
          />
        ))}
        <ReferenceLine y={100} stroke={INK} strokeWidth={3} />
        <ReferenceLine y={0} stroke={INK} strokeWidth={3} />
        <ReferenceLine x={uMin} stroke={INK} strokeWidth={3} />
        <ReferenceLine x={uMax} stroke={INK} strokeWidth={3} />
        {brk && <ReferenceDot x={brk.u} y={100} shape={breakShape} />}
        {brk && <ReferenceDot x={brk.u} y={0} shape={breakShape} />}
        {spec.arrows.map((a, i) => (
          <ReferenceLine key={`a${i}`} segment={[{ x: toU(a[0]), y: a[1] }, { x: toU(a[2]), y: a[3] }]} shape={arrowShape(a[4])} />
        ))}
        {spec.notes.map((n, i) => (
          <ReferenceDot key={`n${i}`} x={toU(n[1])} y={n[2]} shape={noteShape(n[0], n[3])} />
        ))}
        {spec.yZero && (
          <ReferenceDot x={spec.yZero[0]} y={spec.yZero[1]} ifOverflow="visible" shape={noteShape("0", INK, 37)} />
        )}
        <Legend
          layout="vertical"
          align="center"
          verticalAlign="middle"
          content={() => <LegendBox traces={spec.traces} />}
          wrapperStyle={{ left: spec.legend[0] - left, top: spec.legend[1] - top, width: "auto", height: "auto" }}
        />
      </LineChart>
    </div>
  );
}

function Inset({ spec }: { spec: InsetSpec }) {
  const [bx, by, bw, bh] = spec.box;
  const [d0, d1] = spec.domain;
  const data = spec.pts.map((p) => ({ u: p[0], y: p[1] }));
  return (
    <div style={{ position: "absolute", left: bx - INSET_PAD, top: by - 2 }}>
      <LineChart width={bw + 2 * INSET_PAD} height={bh + 20} margin={{ top: 2, right: INSET_PAD, left: INSET_PAD, bottom: 0 }}>
        <XAxis
          dataKey="u"
          type="number"
          domain={[d0, d1]}
          reversed
          allowDataOverflow
          ticks={[...spec.majors, ...spec.minors]}
          interval={0}
          tickSize={0}
          tickMargin={0}
          axisLine={false}
          tickLine={false}
          height={18}
          tick={<InsetTick majors={spec.majors} />}
        />
        <YAxis type="number" domain={[0, 100]} allowDataOverflow hide />
        <ReferenceArea x1={d0} x2={d1} y1={0} y2={100} fill="#fff" fillOpacity={1} stroke="#9c9c9c" strokeWidth={2.5} />
        <Line data={data} dataKey="y" type="monotone" stroke={spec.color} strokeWidth={2.6} dot={false} activeDot={false} isAnimationActive={false} />
        {spec.mini && (
          <ReferenceLine segment={[{ x: 2367, y: 7.5 }, { x: 2342, y: 7.5 }]} stroke={spec.color} strokeWidth={2} />
        )}
        {spec.mini && <ReferenceDot x={2322} y={7.5} shape={noteShape(spec.mini, "#8a8a8a", 8)} />}
        <ReferenceDot x={spec.label[1]} y={spec.label[2]} shape={noteShape(spec.label[0], "#1fbf7a", 36)} />
      </LineChart>
    </div>
  );
}

export default function App() {
  return (
    <div style={{ position: "absolute", left: 0, top: 0, width: 2420, height: 4058, background: "#fff", overflow: "hidden" }}>
      {panels.map((p, i) => (
        <Panel key={i} spec={p} />
      ))}
      {insets.map((s, i) => (
        <Inset key={i} spec={s} />
      ))}
      {panelTags.map(([t, cy]) => (
        <div key={t} style={{ position: "absolute", left: 28, top: cy - 51, fontFamily: SERIF, fontSize: 88, lineHeight: "100px", color: "#111" }}>
          {t}
        </div>
      ))}
    </div>
  );
}
